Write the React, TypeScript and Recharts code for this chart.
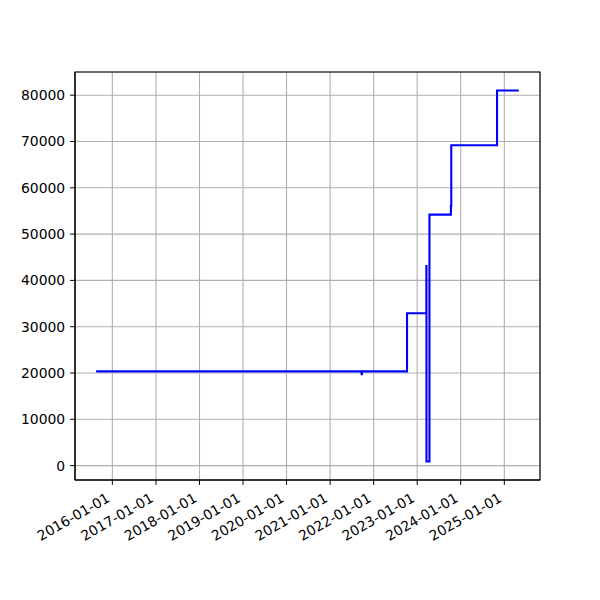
import { LineChart, Line, XAxis, YAxis, CartesianGrid, ReferenceArea } from "recharts"

// step series (value holds until next date)
const dates = [
  "2015-08-18",
  "2021-09-22",
  "2021-09-24",
  "2022-10-08",
  "2023-03-19",
  "2023-03-20",
  "2023-04-14",
  "2023-10-11",
  "2023-10-14",
  "2024-11-01",
  "2025-05-03",
]
const values = [20350, 19750, 20350, 32900, 43100, 900, 54200, 56100, 69200, 81000, 81000]

const tickYears = [2016, 2017, 2018, 2019, 2020, 2021, 2022, 2023, 2024, 2025]
const yTicks = [0, 10000, 20000, 30000, 40000, 50000, 60000, 70000, 80000]

const toTime = (s: string) => {
  const [y, m, d] = s.split("-").map(Number)
  return Date.UTC(y, m - 1, d)
}

const data = dates.map((d, i) => ({ t: toTime(d), v: values[i] }))
const xTicks = tickYears.map((y) => Date.UTC(y, 0, 1))

// matplotlib-style 5% padding around the data
const tMin = data[0].t
const tMax = data[data.length - 1].t
const tPad = (tMax - tMin) * 0.05
const xDomain = [tMin - tPad, tMax + tPad]
const vMin = Math.min(...values)
const vMax = Math.max(...values)
const vPad = (vMax - vMin) * 0.05
const yDomain = [vMin - vPad, vMax + vPad]

const FONT = "DejaVu Sans, sans-serif"

const fmtDate = (t: number) => {
  const d = new Date(t)
  const mm = String(d.getUTCMonth() + 1).padStart(2, "0")
  const dd = String(d.getUTCDate()).padStart(2, "0")
  return `${d.getUTCFullYear()}-${mm}-${dd}`
}

function DateTick({ x, y, payload }: any) {
  const bx = x - 1.6
  const by = y + 11
  return (
    <text
      x={bx}
      y={by}
      textAnchor="end"
      fontSize={13.9}
      fontFamily={FONT}
      fill="#000"
      transform={`rotate(-30, ${bx}, ${by})`}
    >
      {fmtDate(payload.value)}
    </text>
  )
}

export default function App() {
  return (
    <div style={{ position: "absolute", left: 0, top: 0, width: 600, height: 600, background: "#fff" }}>
      <LineChart width={600} height={600} data={data} margin={{ top: 72, right: 60, bottom: 60, left: 0 }}>
        <CartesianGrid stroke="#b0b0b0" strokeWidth={1.1} />
        <XAxis
          dataKey="t"
          type="number"
          domain={xDomain}
          ticks={xTicks}
          height={60}
          tick={<DateTick />}
          tickSize={4.9}
          tickMargin={4.9}
          stroke="#000"
          interval={0}
        />
        <YAxis
          type="number"
          domain={yDomain}
          ticks={yTicks}
          width={75}
          tickSize={4.9}
          tickMargin={4.9}
          stroke="#000"
          tick={{ fontSize: 13.9, fontFamily: FONT, fill: "#000" }}
          interval={0}
        />
        <ReferenceArea
          x1={xDomain[0]}
          x2={xDomain[1]}
          y1={yDomain[0]}
          y2={yDomain[1]}
          fill="none"
          stroke="#000"
          strokeWidth={1.1}
          ifOverflow="visible"
        />
        <Line
          type="stepAfter"
          dataKey="v"
          stroke="#0000ff"
          strokeWidth={2.1}
          dot={false}
          isAnimationActive={false}
        />
      </LineChart>
    </div>
  )
}
